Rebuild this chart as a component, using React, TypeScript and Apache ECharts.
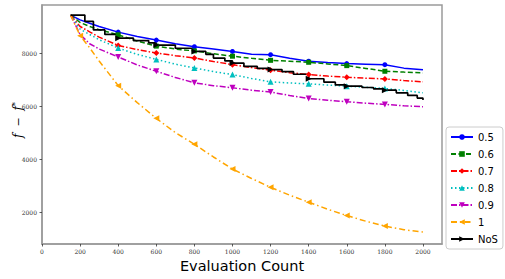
import React, { useEffect, useRef } from "react";
import * as echarts from "echarts";

const X_GRID = [150, 200, 250, 300, 400, 500, 600, 700, 800, 900, 1000, 1100, 1200, 1300, 1400, 1500, 1600, 1700, 1800, 1900, 2000];
const S05 = [9430, 9250, 9120, 9000, 8787, 8620, 8487, 8350, 8236, 8150, 8060, 7950, 7936, 7800, 7690, 7640, 7600, 7580, 7560, 7430, 7370];
const S06 = [9430, 9150, 9000, 8880, 8686, 8450, 8260, 8150, 8080, 7970, 7880, 7800, 7724, 7690, 7650, 7590, 7524, 7420, 7312, 7280, 7250];
const S07 = [9430, 9000, 8800, 8600, 8287, 8130, 8000, 7900, 7812, 7680, 7562, 7450, 7348, 7260, 7186, 7130, 7086, 7050, 7025, 6960, 6912];
const S08 = [9430, 8900, 8700, 8500, 8187, 7950, 7760, 7580, 7437, 7300, 7186, 7040, 6912, 6870, 6837, 6790, 6750, 6710, 6662, 6590, 6500];
const S09 = [9430, 8700, 8350, 8150, 7850, 7550, 7311, 7080, 6875, 6770, 6688, 6600, 6526, 6400, 6287, 6220, 6163, 6110, 6062, 6010, 5975];
const S1 = [9430, 8650, 8200, 7700, 6770, 6130, 5536, 5000, 4562, 4080, 3624, 3270, 2938, 2640, 2376, 2110, 1873, 1660, 1476, 1340, 1250];

const NOS_X = [150, 225, 270, 330, 400, 480, 560, 600, 700, 800, 860, 900, 960, 1000, 1060, 1130, 1200, 1260, 1320, 1400, 1480, 1540, 1600, 1680, 1740, 1800, 1860, 1920, 1970, 2000];
const NOS_Y = [9430, 9190, 8870, 8700, 8560, 8470, 8380, 8300, 8180, 8060, 7950, 7810, 7700, 7620, 7500, 7420, 7374, 7300, 7200, 7030, 6900, 6800, 6750, 6700, 6650, 6600, 6500, 6400, 6300, 6225];

const MARK_X = [400, 600, 800, 1000, 1200, 1400, 1600, 1800];
const MARK_X_ORANGE = [200, 400, 600, 800, 1000, 1200, 1400, 1600, 1800];

const X_TICKS = [0, 200, 400, 600, 800, 1000, 1200, 1400, 1600, 1800, 2000];
const Y_TICKS = [2000, 4000, 6000, 8000];

const TRI_DOWN = "path://M0,0 L10,0 L5,10 Z";
const TRI_LEFT = "path://M0,5 L10,0 L10,10 Z";
const TRI_RIGHT = "path://M0,0 L10,5 L0,10 Z";

export default function App() {
  const ref = useRef<HTMLDivElement>(null);
  useEffect(() => {
    if (!ref.current) return;
    const chart = echarts.init(ref.current, null, { renderer: "svg" });
    const pairs = (xs: number[], ys: number[]) => xs.map((x, i) => [x, ys[i]]);
    const mk = (name: string, xs: number[], ys: number[], color: string, dash: any, symbol: string, size: number, marks: number[], width = 1.5, step: any = false) => ({
      name,
      type: "line",
      data: pairs(xs, ys),
      step,
      color,
      symbol,
      symbolSize: (v: number[]) => (marks.includes(v[0]) ? size : 0),
      showAllSymbol: true,
      lineStyle: { color, width, type: dash },
      itemStyle: { color, borderWidth: 0 },
      z: 2,
    });
    const series = [
      mk("0.5", X_GRID, S05, "#0000ff", "solid", "circle", 5, MARK_X),
      mk("0.6", X_GRID, S06, "#008000", [5, 2.5], "rect", 5, MARK_X),
      mk("0.7", X_GRID, S07, "#ff0000", [6, 2, 1.5, 2], "diamond", 6, MARK_X),
      mk("0.8", X_GRID, S08, "#00bfbf", [1.5, 2.5], "triangle", 6, MARK_X),
      mk("0.9", X_GRID, S09, "#bf00bf", [6, 2, 1.5, 2], TRI_DOWN, 6, MARK_X),
      mk("1", X_GRID, S1, "#ffa500", [6, 3, 1.5, 3], TRI_LEFT, 6, MARK_X_ORANGE),
      mk("NoS", NOS_X, NOS_Y, "#000000", "solid", TRI_RIGHT, 6, MARK_X, 1.7, "end"),
    ];
    chart.setOption({
      animation: false,
      backgroundColor: "#ffffff",
      grid: { left: 42, right: 63, top: 5, bottom: 35, show: true, borderColor: "#9a9a9a", borderWidth: 1.5, backgroundColor: "transparent" },
      xAxis: {
        type: "value",
        min: 0,
        max: 2100,
        name: "Evaluation Count",
        nameLocation: "middle",
        nameGap: 11,
        nameTextStyle: { fontFamily: "DejaVu Sans", fontSize: 14.5, color: "#000" },
        axisLine: { show: true, lineStyle: { color: "#9a9a9a", width: 1.5 } },
        axisTick: { show: true, length: 2.5, customValues: X_TICKS, lineStyle: { color: "#333", width: 0.8 } },
        axisLabel: { customValues: X_TICKS, formatter: (v: number) => String(v), fontFamily: "DejaVu Serif", fontSize: 6, color: "#333333", margin: 4 },
        splitLine: { show: false },
      },
      yAxis: {
        type: "value",
        min: 800,
        max: 9810,
        axisLine: { show: true, lineStyle: { color: "#9a9a9a", width: 1.5 } },
        axisTick: { show: true, length: 2.5, customValues: Y_TICKS, lineStyle: { color: "#333", width: 0.8 } },
        axisLabel: { customValues: Y_TICKS, formatter: (v: number) => String(v), fontFamily: "DejaVu Serif", fontSize: 6, color: "#333333", margin: 5 },
        splitLine: { show: false },
      },
      legend: {
        orient: "vertical",
        left: 446,
        top: 127,
        itemWidth: 22,
        itemHeight: 7,
        itemGap: 7,
        padding: [5, 5, 5, 4],
        borderColor: "#cccccc",
        borderWidth: 1,
        borderRadius: 3,
        backgroundColor: "#fff",
        textStyle: { fontFamily: "DejaVu Sans", fontSize: 10, color: "#000" },
        data: series.map((s) => s.name),
      },
      graphic: [
        {
          type: "text",
          x: 18,
          y: 120,
          rotation: Math.PI / 2,
          style: {
            text: "{i|f}  −  {i|f}{s|*}",
            fontFamily: "DejaVu Serif",
            fontSize: 11,
            fill: "#000",
            align: "center",
            verticalAlign: "middle",
            rich: {
              i: { fontFamily: "DejaVu Serif", fontStyle: "italic", fontSize: 12, fill: "#000" },
              s: { fontFamily: "DejaVu Serif", fontSize: 8, fill: "#000", verticalAlign: "top", padding: [0, 0, 6, 0] },
            },
          },
        },
      ],
      series,
    });
    return () => chart.dispose();
  }, []);
  return <div ref={ref} style={{ position: "fixed", left: 0, top: 0, width: 505, height: 279 }} />;
}
